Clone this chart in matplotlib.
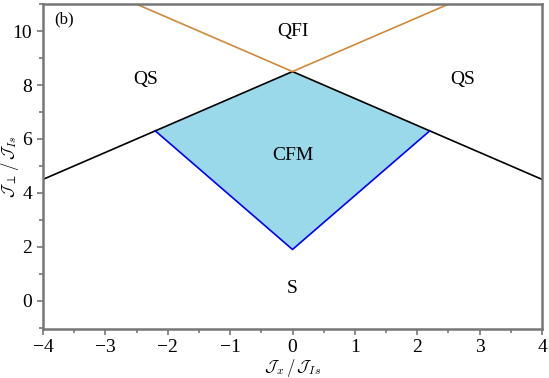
import matplotlib

matplotlib.use('Agg')
import matplotlib.pyplot as plt
import numpy as np

# Fronteras de fase (coordenadas en J_x / J_Is, J_perp / J_Is)
qs_x = [-4.0, 0.0, 4.0]
qs_y = [4.5, 8.5, 4.5]
qfi_x = [-2.5, 0.0, 2.5]
qfi_y = [11.0, 8.5, 11.0]
cfm_x = [-2.2, 0.0, 2.2]
cfm_y = [6.3, 1.9, 6.3]

# Etiquetas de las fases
phase_labels = ['QFI', 'QS', 'QS', 'CFM', 'S']
phase_x = [0.0, -2.35, 2.73, 0.0, 0.0]
phase_y = [10.0, 8.2, 8.2, 5.4, 0.45]

xticks = [-4, -3, -2, -1, 0, 1, 2, 3, 4]
yticks = [0, 2, 4, 6, 8, 10]

plt.rcParams['font.family'] = ['Liberation Serif', 'STIXGeneral', 'DejaVu Serif']
plt.rcParams['mathtext.fontset'] = 'cm'

frame_color = '#777777'

fig = plt.figure(figsize=(5.49, 3.78), dpi=100)
ax = fig.add_axes([0.0783, 0.1296, 0.909, 0.8594])

# Región CFM rellena (entre la línea azul y la línea negra)
xf = np.array([cfm_x[0], qs_x[1], cfm_x[2], qs_x[1]])
yf = np.array([cfm_y[0], qs_y[1], cfm_y[2], cfm_y[1]])
ax.fill(xf, yf, color='#99D9EA', lw=0)

ax.plot(qs_x, qs_y, color='black', lw=1.2)
ax.plot(qfi_x, qfi_y, color='#D2883A', lw=1.2)
ax.plot(cfm_x, cfm_y, color='#0000FF', lw=1.2)

for lab, x, y in zip(phase_labels, phase_x, phase_y):
    ax.text(x, y, lab, ha='center', va='center', fontsize=14)

ax.text(-3.82, 10.45, '(b)', ha='left', va='center', fontsize=12)

ax.set_xlim(-4, 4)
ax.set_ylim(-1.05, 11)
ax.set_xticks(xticks)
ax.set_yticks(yticks)
ax.set_xticklabels(['\u2212' + str(-v) if v < 0 else str(v) for v in xticks])
ax.set_xticks(np.arange(-3.5, 4, 1.0), minor=True)
ax.set_yticks(np.arange(-1, 12, 2), minor=True)

for sp in ax.spines.values():
    sp.set_color(frame_color)
    sp.set_linewidth(1.8)
ax.tick_params(which='both', direction='out', color=frame_color, width=1.2,
               labelsize=14)
ax.tick_params(which='major', length=4)
ax.tick_params(which='minor', length=3)
ax.tick_params(axis='x', which='major', pad=3)
ax.tick_params(axis='y', which='major', pad=4)

ax.set_xlabel(r'$\mathcal{J}_x\,/\,\mathcal{J}_{Is}$', fontsize=12)
ax.xaxis.set_label_coords(0.5, -0.085)
ax.set_ylabel(r'$\mathcal{J}_\perp\,/\,\mathcal{J}_{Is}$', fontsize=12)
ax.yaxis.set_label_coords(-0.045, 0.5)

plt.savefig('out.png', dpi=100)
plt.close(fig)
